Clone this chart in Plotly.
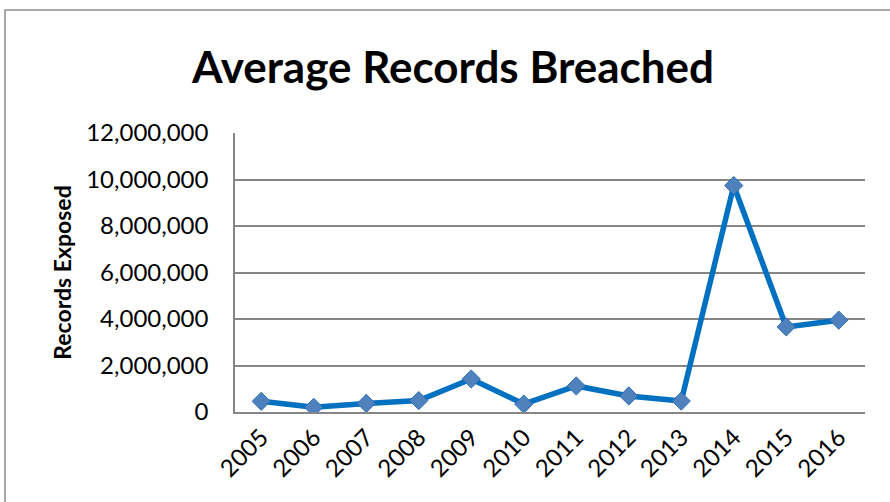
import plotly.graph_objects as go

years = ["2005", "2006", "2007", "2008", "2009", "2010", "2011", "2012", "2013", "2014", "2015", "2016"]
records = [460000, 200000, 370000, 490000, 1420000, 340000, 1120000, 690000, 470000, 9740000, 3660000, 3950000]
y_ticks = [0, 2000000, 4000000, 6000000, 8000000, 10000000, 12000000]
y_tick_text = ["0", "2,000,000", "4,000,000", "6,000,000", "8,000,000", "10,000,000", "12,000,000"]

FONT = "Lato"

fig = go.Figure()
fig.add_trace(go.Scatter(
    x=years, y=records, mode="lines+markers",
    line=dict(color="#0070C0", width=5.5),
    marker=dict(symbol="diamond", size=14, color="#4F81BD",
                line=dict(color="#2F6DB5", width=1)),
    showlegend=False,
))

fig.update_layout(
    width=890, height=502,
    margin=dict(l=235, r=25, t=133, b=90),
    paper_bgcolor="white", plot_bgcolor="white",
    title=dict(text="<b>Average Records Breached</b>", x=0.509, xanchor="center",
               y=0.865, yanchor="middle",
               font=dict(family=FONT, size=44, color="black")),
    xaxis=dict(
        type="category", tickangle=-45,
        tickfont=dict(family=FONT, size=24, color="black"),
        showgrid=False, showline=True, linecolor="#868686", linewidth=1.5,
        ticks="", range=[-0.5, 11.5],
    ),
    yaxis=dict(
        range=[0, 12000000], tickvals=y_ticks, ticktext=y_tick_text,
        tickfont=dict(family=FONT, size=24, color="black"),
        showgrid=True, gridcolor="#868686", gridwidth=1.5,
        showline=True, linecolor="#868686", linewidth=1.5,
        zeroline=False, ticks="", ticklen=0, ticklabelstandoff=20,
        title=dict(text="<b>Records Exposed</b>", standoff=8,
                   font=dict(family=FONT, size=23, color="black")),
    ),
    shapes=[dict(type="rect", xref="paper", yref="paper",
                 x0=(5 - 235) / 630, x1=2, y0=-1, y1=1 + (133 - 10) / 279,
                 line=dict(color="#8C8C8C", width=1.5), fillcolor="rgba(0,0,0,0)",
                 layer="below")],
)

fig.write_html("out.html", config={"displayModeBar": False},
               post_script="document.body.style.margin='0';")
